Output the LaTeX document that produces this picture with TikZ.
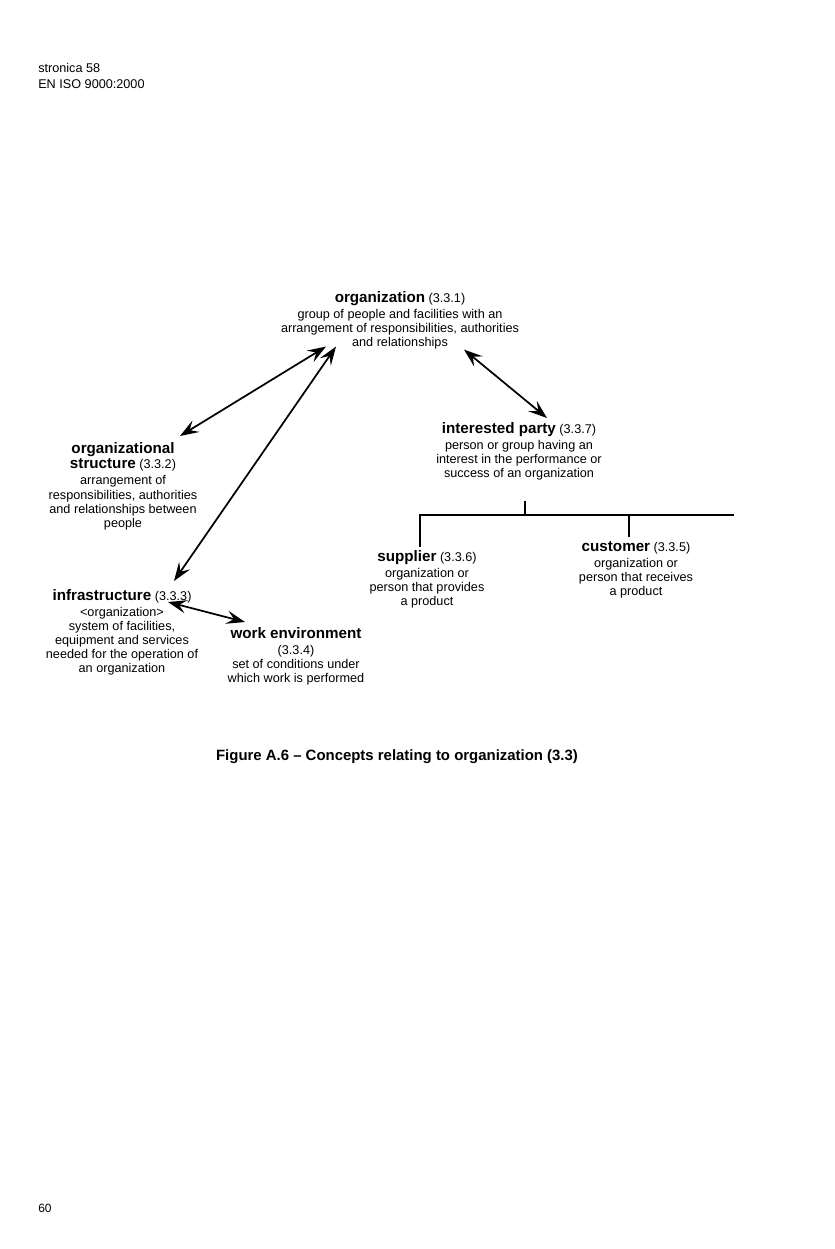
\documentclass[tikz,border=0pt]{standalone}
\usepackage{fontspec}
\setmainfont{Liberation Sans}
\usetikzlibrary{positioning,arrows.meta}

\newcommand{\termname}[1]{{\fontsize{11.4}{13}\selectfont\bfseries #1}}
\newcommand{\conc}[2]{\termname{#1} (#2)}

\tikzset{
  concept/.style={align=center, inner sep=0pt, anchor=north, font=\fontsize{9.5}{10.6}\selectfont},
  rel/.style={{Stealth[length=14pt,width=10pt,inset=5.5pt]}-{Stealth[length=14pt,width=10pt,inset=5.5pt]}, line width=1.3pt},
  gen/.style={line width=1.5pt}
}

\begin{document}
\begin{tikzpicture}[x=0.75pt,y=-0.75pt]
    \useasboundingbox (0,0) rectangle (835,1249);

    % page head and foot
    \node[anchor=north west, align=left, inner sep=0pt, font=\fontsize{9.5}{12}\selectfont] (head) at (38,63) {stronica 58\\EN ISO 9000:2000};
    \node[anchor=base west, inner sep=0pt, font=\fontsize{9}{11}\selectfont] (page) at (38,1212) {60};

    % concepts
    \node[concept] (org) at (400,291) {\conc{organization}{3.3.1}\\[1.5pt]group of people and facilities with an\\arrangement of responsibilities, authorities\\and relationships};
    \node[concept] (struct) at (123,442) {\termname{organizational}\\[1pt]\conc{structure}{3.3.2}\\[1.5pt]arrangement of\\responsibilities, authorities\\and relationships between\\people};
    \node[concept] (infra) at (122,589) {\conc{infrastructure}{3.3.3}\\[1.5pt]<organization>\\system of facilities,\\equipment and services\\needed for the operation of\\an organization};
    \node[concept] (work) at (296,627) {\termname{work environment}\\[1.5pt](3.3.4)\\set of conditions under\\which work is performed};
    \node[concept] (party) at (519,422) {\conc{interested party}{3.3.7}\\[1.5pt]person or group having an\\interest in the performance or\\success of an organization};
    \node[concept] (supp) at (427,550) {\conc{supplier}{3.3.6}\\[1.5pt]organization or\\person that provides\\a product};
    \node[concept] (cust) at (636,541) {\conc{customer}{3.3.5}\\[1.5pt]organization or\\person that receives\\a product};

    % associative relations
    \draw[rel] ([shift={(-74,-3)}]org.south) -- ([shift={(57,-6)}]struct.north);
    \draw[rel] ([shift={(-64,-3)}]org.south) -- ([shift={(52,-8)}]infra.north);
    \draw[rel] ([shift={(64,0)}]org.south) -- ([shift={(28,-4)}]party.north);
    \draw[rel] ([shift={(46,13)}]infra.north) -- ([shift={(-51,-5)}]work.north);

    % generic relation
    \coordinate (treeend) at (734,515);
    \draw[gen] ([shift={(6,20)}]party.south) coordinate (ip) -- (ip |- treeend);
    \draw[gen] ([shift={(-7,-3)}]supp.north) |- (treeend);
    \draw[gen] ([shift={(-7,-4)}]cust.north) coordinate (cu) -- (cu |- treeend);

    \node[anchor=base, inner sep=0pt, font=\fontsize{11.2}{13}\selectfont\bfseries] (caption) at (397,760) {Figure A.6 -- Concepts relating to organization (3.3)};
\end{tikzpicture}
\end{document}
